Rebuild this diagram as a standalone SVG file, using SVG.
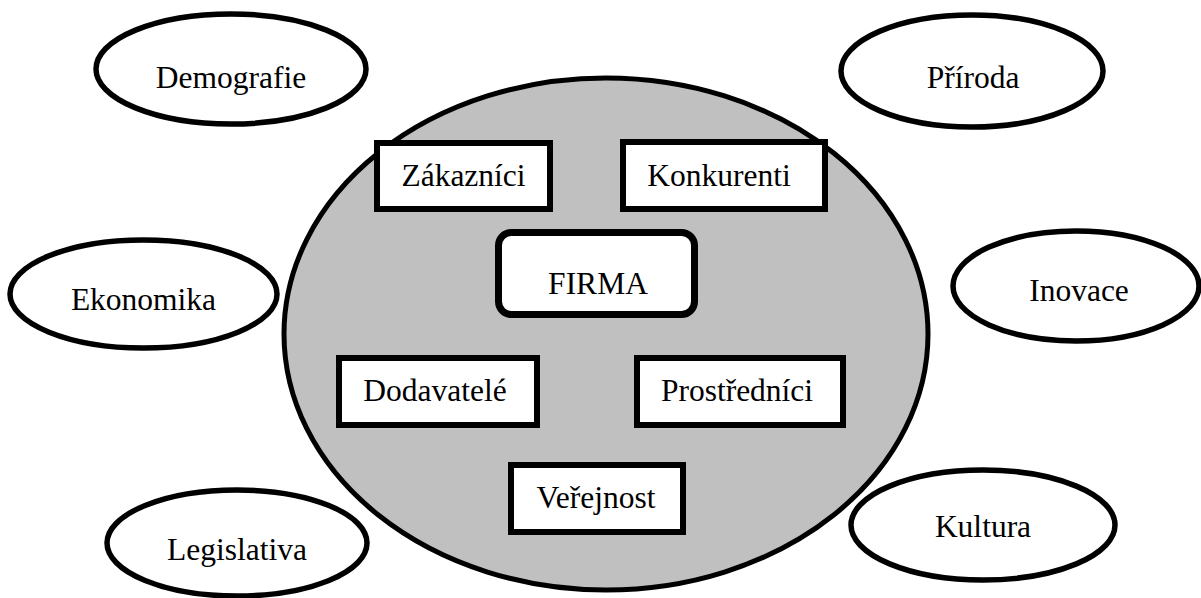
<svg xmlns="http://www.w3.org/2000/svg" width="1201" height="598" viewBox="0 0 1201 598">
<style>
.bg{fill:#ffffff}
.big{fill:#c0c0c0;stroke:#000;stroke-width:5}
.oval{fill:#ffffff;stroke:#000;stroke-width:5.5}
.box{fill:#ffffff;stroke:#000;stroke-width:6}
.firma{fill:#ffffff;stroke:#000;stroke-width:7}
text{font-family:"Liberation Serif","Times New Roman",serif;font-size:31.5px;fill:#000;text-anchor:middle}
</style>
<rect class="bg" x="0" y="0" width="1201" height="598"/>
<g id="connectors"></g>
<g id="okoli">
<ellipse class="big" cx="606" cy="334" rx="322" ry="256"/>
</g>
<g id="demografie"><ellipse class="oval" cx="231" cy="69" rx="135" ry="55"/><text x="231" y="88">Demografie</text></g>
<g id="priroda"><ellipse class="oval" cx="972" cy="71" rx="131" ry="56"/><text x="973" y="88">Příroda</text></g>
<g id="ekonomika"><ellipse class="oval" cx="143.5" cy="294" rx="133.5" ry="54"/><text x="143.5" y="310">Ekonomika</text></g>
<g id="inovace"><ellipse class="oval" cx="1076" cy="286" rx="123" ry="55"/><text x="1079" y="301">Inovace</text></g>
<g id="legislativa"><ellipse class="oval" cx="237" cy="543" rx="130" ry="53"/><text x="237" y="560">Legislativa</text></g>
<g id="kultura"><ellipse class="oval" cx="983" cy="525" rx="132" ry="55"/><text x="983" y="537">Kultura</text></g>
<g id="zakaznici"><rect class="box" x="377" y="143" width="173" height="66"/><text x="463.5" y="186">Zákazníci</text></g>
<g id="konkurenti"><rect class="box" x="623" y="142" width="202" height="67"/><text x="719" y="186">Konkurenti</text></g>
<g id="firma"><rect class="firma" x="498.5" y="232.5" width="196" height="82" rx="13" ry="13"/><text x="598" y="294">FIRMA</text></g>
<g id="dodavatele"><rect class="box" x="339" y="358" width="198" height="67"/><text x="435" y="401">Dodavatelé</text></g>
<g id="prostrednici"><rect class="box" x="637" y="358" width="206" height="67"/><text x="737" y="401">Prostředníci</text></g>
<g id="verejnost"><rect class="box" x="511" y="465" width="172" height="67"/><text x="596" y="508">Veřejnost</text></g>
</svg>
